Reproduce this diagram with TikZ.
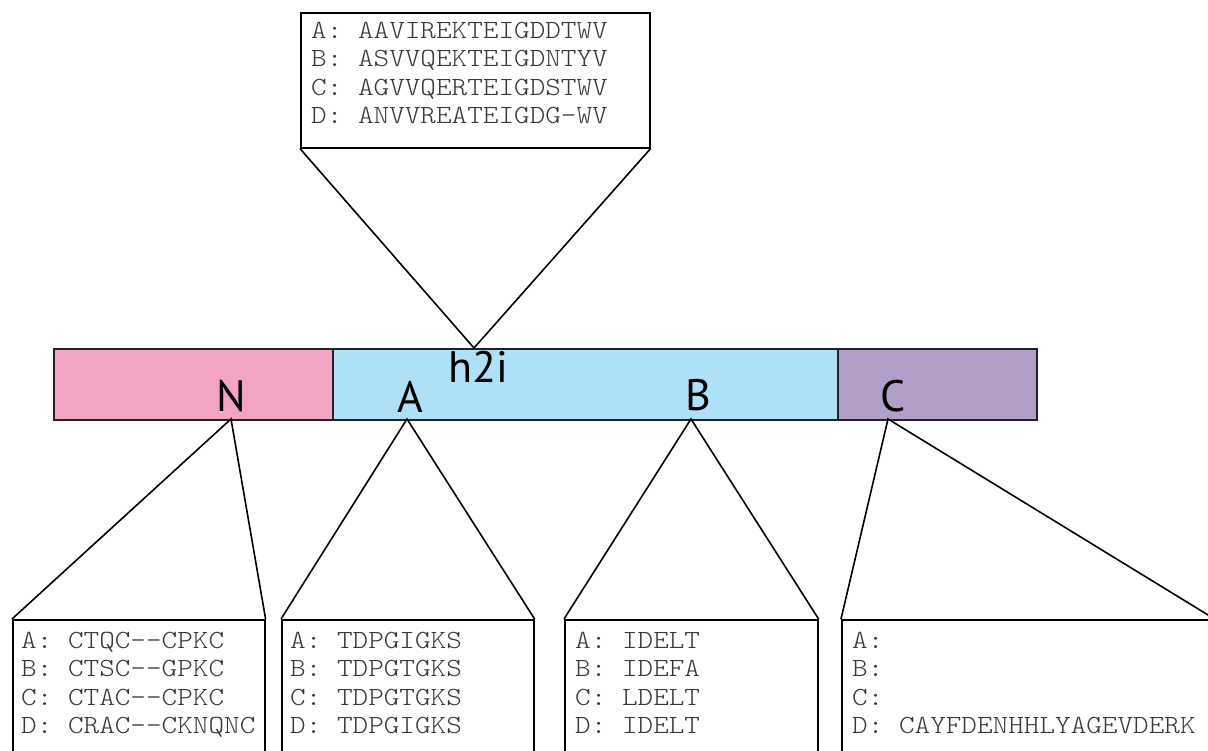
\documentclass[tikz,border=0pt]{standalone}
\usepackage{fontspec}
\newfontfamily\seqfont[FakeStretch=1.135]{lmmonolt10-regular.otf}
\newfontfamily\labfont{PT Sans}
\definecolor{pinkc}{HTML}{F3A3C4}
\definecolor{bluec}{HTML}{AEE1F7}
\definecolor{purplec}{HTML}{B39DC9}
\definecolor{seqgray}{HTML}{383838}
\definecolor{edgec}{HTML}{222222}
\newcommand{\firstrule}{\rule{0pt}{20pt}}
\begin{document}
\begin{tikzpicture}[x=1pt,y=-1pt,
  seg/.style={draw=edgec,line width=1.8pt,rectangle,inner sep=0,anchor=north west,minimum height=71pt},
  seqbox/.style={draw=black,line width=1.6pt,rectangle,inner sep=0,anchor=north west,fill=white},
  seqtext/.style={anchor=north west,inner sep=0,align=left,text=seqgray,font=\seqfont\fontsize{26.2}{28.5}\selectfont},
  lab/.style={anchor=base,inner sep=0,font=\labfont\fontsize{44}{44}\selectfont},
  conn/.style={draw=black,line width=1.6pt,line join=miter}]
\useasboundingbox (0,0) rectangle (1208,751);
\clip (0,0) rectangle (1208,751);
\fill[white] (0,0) rectangle (1208,751);
% bar segments
\node[seg,fill=pinkc,minimum width=279pt] (segN) at (53,348) {};
\node[seg,fill=bluec,minimum width=505pt] (segAB) at (332,348) {};
\node[seg,fill=purplec,minimum width=199pt] (segC) at (837,348) {};
% labels
\node[lab] (labN) at (231,411) {N};
\node[lab] (labA) at (410,413) {A};
\node[lab] (labh) at (478,383) {h2i};
\node[lab] (labB) at (698,410) {B};
\node[lab] (labC) at (893,411) {C};
% apex coordinates
\coordinate (apT) at (474,348);
\coordinate (apN) at (231,419);
\coordinate (apA) at (407,419);
\coordinate (apB) at (691,419);
\coordinate (apC) at (888,419);
% top box
\node[seqbox,minimum width=349pt,minimum height=135pt] (boxT) at (300,12) {};
\node[seqtext] (txtT) at (311,18) {\firstrule A: AAVIREKTEIGDDTWV\\B: ASVVQEKTEIGDNTYV\\C: AGVVQERTEIGDSTWV\\D: ANVVREATEIGDG-WV};
% bottom boxes
\node[seqbox,minimum width=252pt,minimum height=200pt] (boxN) at (12,619) {};
\node[seqbox,minimum width=252pt,minimum height=200pt] (boxA) at (281,619) {};
\node[seqbox,minimum width=253pt,minimum height=200pt] (boxB) at (564,619) {};
\node[seqbox,minimum width=372pt,minimum height=200pt] (boxC) at (841,619) {};
\node[seqtext] (txtN) at (21,628) {\firstrule A: CTQC--CPKC\\B: CTSC--GPKC\\C: CTAC--CPKC\\D: CRAC--CKNQNC};
\node[seqtext] (txtA) at (290,628) {\firstrule A: TDPGIGKS\\B: TDPGTGKS\\C: TDPGTGKS\\D: TDPGIGKS};
\node[seqtext] (txtB) at (575,628) {\firstrule A: IDELT\\B: IDEFA\\C: LDELT\\D: IDELT};
\node[seqtext] (txtC) at (852,628) {\firstrule A:\\B:\\C:\\D: CAYFDENHHLYAGEVDERK};
% connectors
\draw[conn] (boxT.south west) -- (apT) -- (boxT.south east);
\draw[conn] (boxN.north west) -- (apN) -- (boxN.north east);
\draw[conn] (boxA.north west) -- (apA) -- (boxA.north east);
\draw[conn] (boxB.north west) -- (apB) -- (boxB.north east);
\draw[conn] (boxC.north west) -- (apC) -- (boxC.north east);
\end{tikzpicture}
\end{document}
